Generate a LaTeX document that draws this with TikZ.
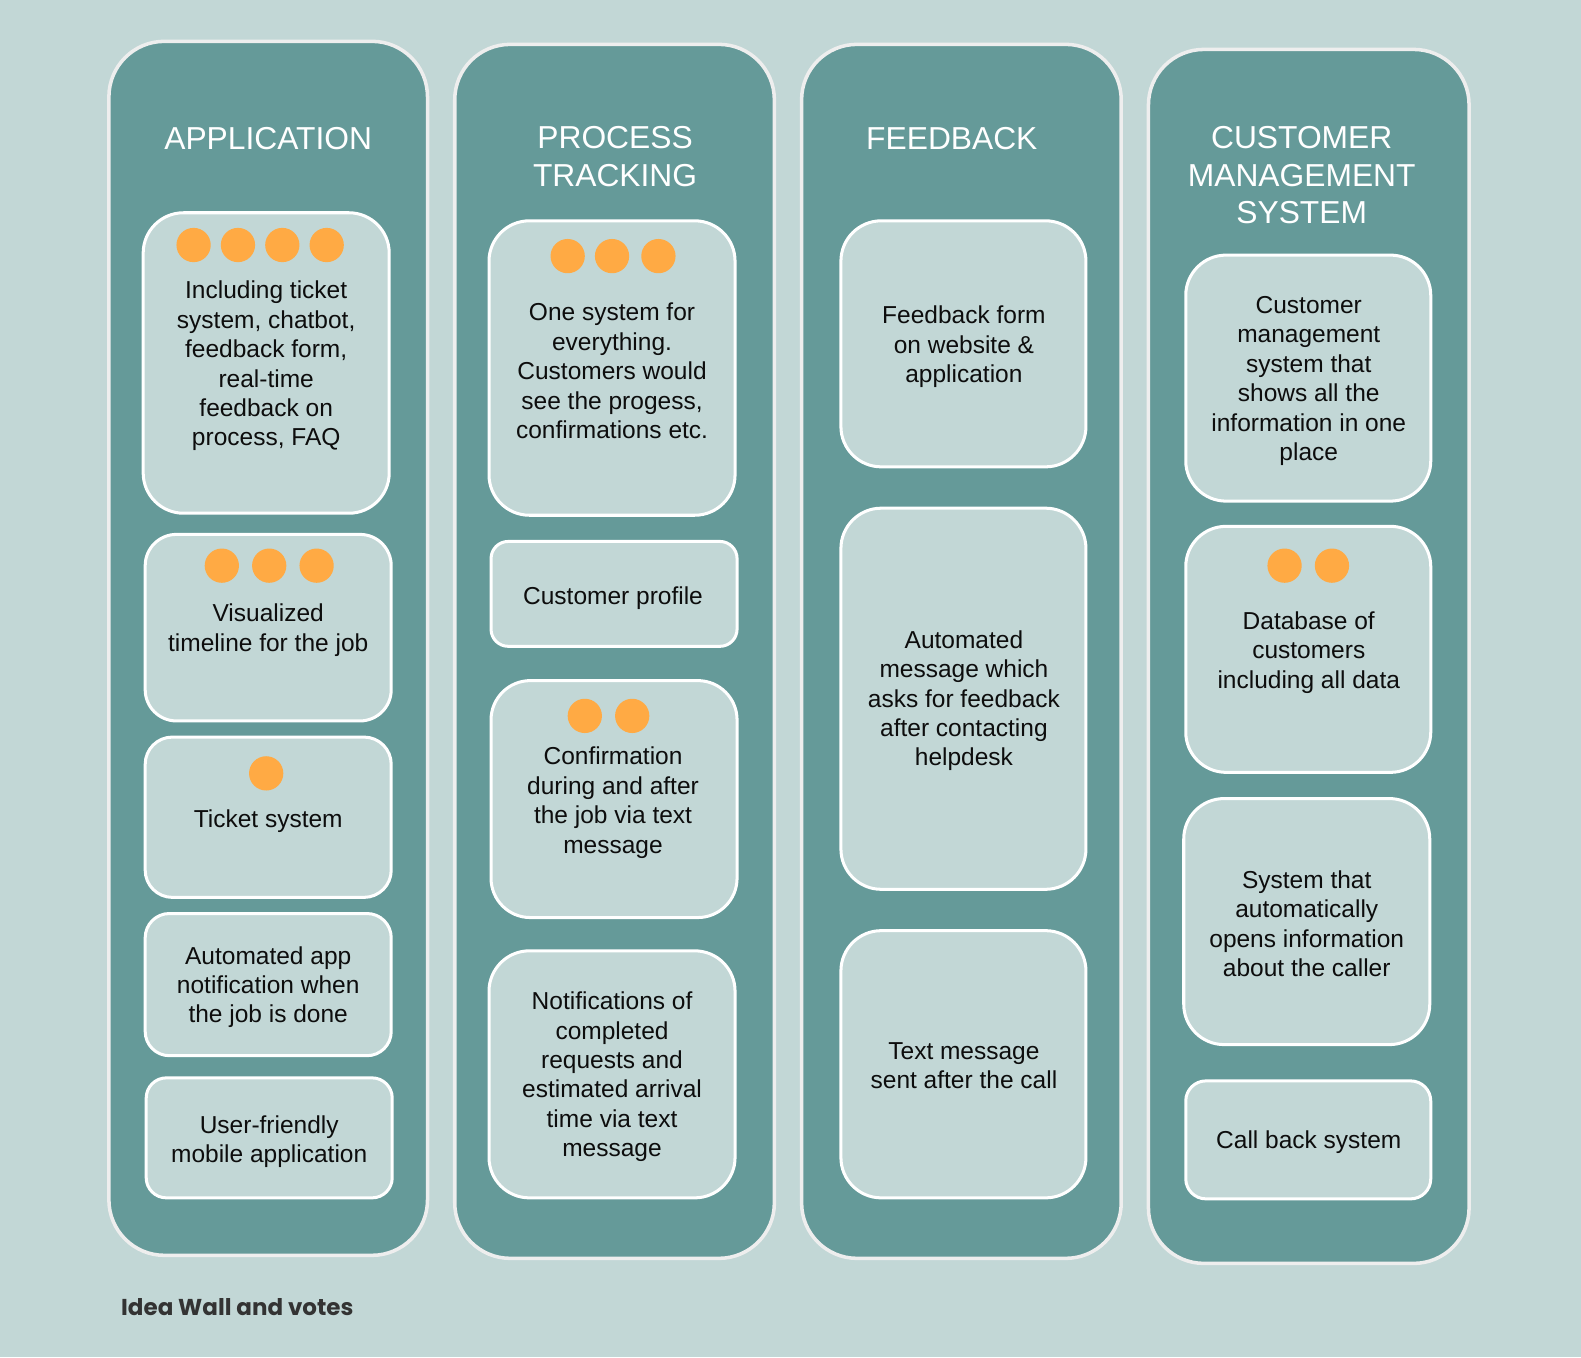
\documentclass[tikz,border=0pt]{standalone}
\usepackage{fontspec}
\setmainfont{Liberation Sans}
\newfontfamily\labelfont{Poppins}
\usetikzlibrary{fit}
\definecolor{bgc}{HTML}{C2D7D6}
\definecolor{colc}{HTML}{659A99}
\definecolor{dotc}{HTML}{FFAA44}
\definecolor{colborder}{HTML}{EEEEEE}
\definecolor{labc}{HTML}{333333}
\tikzset{
  column/.style={draw=colborder, line width=3.5pt, fill=colc, rounded corners=55pt, inner sep=0pt},
  card/.style={draw=white, line width=3pt, fill=bgc, inner sep=0pt},
  dot/.style={circle, fill=dotc, minimum size=34pt, inner sep=0pt},
  title/.style={text=white, align=center, font=\fontsize{31.5}{37.3}\selectfont},
  cardtext/.style={text=black!95, align=center, font=\fontsize{24.3}{29.2}\selectfont, inner sep=0pt},
}
\begin{document}
\begin{tikzpicture}[x=1pt,y=-1pt]
\fill[bgc] (0,0) rectangle (1568,1346);
\useasboundingbox (0,0) rectangle (1568,1346);
% columns
\node[column, fit={(108,41) (424,1245)}] (col1) {};
\node[column, fit={(451,44) (768,1248)}] (col2) {};
\node[column, fit={(795,44) (1112,1248)}] (col3) {};
\node[column, fit={(1139,49) (1457,1253)}] (col4) {};
% titles
\node[title] (t1) at (266,137) {APPLICATION};
\node[title] (t2) at (610,155.5) {PROCESS\\TRACKING};
\node[title] (t3) at (944,137) {FEEDBACK};
\node[title] (t4) at (1291,174) {CUSTOMER\\MANAGEMENT\\SYSTEM};
% column 1 cards
\node[card, rounded corners=40pt, fit={(142,211) (386,509)}] (c1a) {};
\node[card, rounded corners=31pt, fit={(144,530) (388,715)}] (c1b) {};
\node[card, rounded corners=27pt, fit={(144,731) (388,890)}] (c1c) {};
\node[card, rounded corners=24pt, fit={(144,906) (388,1047)}] (c1d) {};
\node[card, rounded corners=20pt, fit={(145,1069) (389,1188)}] (c1e) {};
% column 2 cards
\node[card, rounded corners=40pt, fit={(485,219) (729,511)}] (c2a) {};
\node[card, rounded corners=17pt, fit={(487,537) (731,641)}] (c2b) {};
\node[card, rounded corners=39pt, fit={(487,675) (731,910)}] (c2c) {};
\node[card, rounded corners=40pt, fit={(485,943) (729,1188)}] (c2d) {};
% column 3 cards
\node[card, rounded corners=40pt, fit={(834,219) (1077,463)}] (c3a) {};
\node[card, rounded corners=40pt, fit={(834,504) (1077,882)}] (c3b) {};
\node[card, rounded corners=40pt, fit={(834,923) (1077,1188)}] (c3c) {};
% column 4 cards
\node[card, rounded corners=40pt, fit={(1176,253) (1419,497)}] (c4a) {};
\node[card, rounded corners=40pt, fit={(1176,522) (1419,766)}] (c4b) {};
\node[card, rounded corners=40pt, fit={(1174,792) (1418,1036)}] (c4c) {};
\node[card, rounded corners=20pt, fit={(1176,1072) (1419,1189)}] (c4d) {};
% dots
\node[dot] (d1a1) at (192,243) {};
\node[dot] (d1a2) at (236,243) {};
\node[dot] (d1a3) at (280,243) {};
\node[dot] (d1a4) at (324,243) {};
\node[dot] (d1b1) at (220,561) {};
\node[dot] (d1b2) at (267,561) {};
\node[dot] (d1b3) at (314,561) {};
\node[dot] (d1c1) at (264,767) {};
\node[dot] (d2a1) at (563,254) {};
\node[dot] (d2a2) at (607,254) {};
\node[dot] (d2a3) at (653,254) {};
\node[dot] (d2c1) at (580,710) {};
\node[dot] (d2c2) at (627,710) {};
\node[dot] (d4b1) at (1274,561) {};
\node[dot] (d4b2) at (1321,561) {};
% texts column 1
\node[cardtext] (x1a) at (264,363) {Including ticket\\system, chatbot,\\feedback form,\\real-time\\feedback on\\process, FAQ};
\node[cardtext] (x1b) at (266,625) {Visualized\\timeline for the job};
\node[cardtext] (x1c) at (266,814) {Ticket system};
\node[cardtext] (x1d) at (266,979) {Automated app\\notification when\\the job is done};
\node[cardtext] (x1e) at (267,1132) {User-friendly\\mobile application};
% texts column 2
\node[cardtext] (x2a) at (607,368) {One system for\\everything.\\Customers would\\see the progess,\\confirmations etc.};
\node[cardtext] (x2b) at (608,593) {Customer profile};
\node[cardtext] (x2c) at (608,796) {Confirmation\\during and after\\the job via text\\message};
\node[cardtext] (x2d) at (607,1068) {Notifications of\\completed\\requests and\\estimated arrival\\time via text\\message};
% texts column 3
\node[cardtext] (x3a) at (956,344) {Feedback form\\on website \&\\application};
\node[cardtext] (x3b) at (956,695) {Automated\\message which\\asks for feedback\\after contacting\\helpdesk};
\node[cardtext] (x3c) at (956,1057) {Text message\\sent after the call};
% texts column 4
\node[cardtext] (x4a) at (1298,378) {Customer\\management\\system that\\shows all the\\information in one\\place};
\node[cardtext] (x4b) at (1298,647) {Database of\\customers\\including all data};
\node[cardtext] (x4c) at (1296,916) {System that\\automatically\\opens information\\about the caller};
\node[cardtext] (x4d) at (1298,1133) {Call back system};
% label
\node[anchor=west, text=labc, inner sep=0pt, font=\labelfont\bfseries\fontsize{22.8}{27}\selectfont] (lbl) at (120,1296) {Idea Wall and votes};
\end{tikzpicture}
\end{document}
